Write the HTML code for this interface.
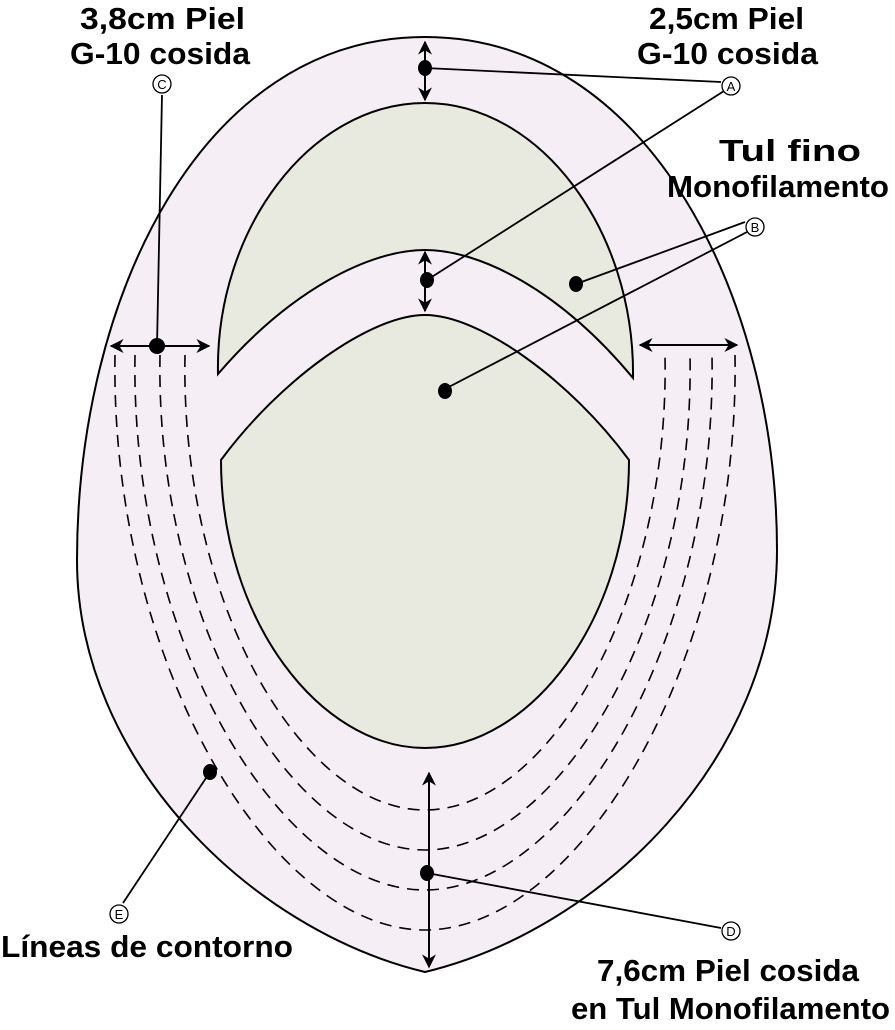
<!DOCTYPE html>
<html><head><meta charset="utf-8"><style>
html,body{margin:0;padding:0;background:#fff;}
svg{display:block;}
text{font-family:"Liberation Sans",sans-serif;font-weight:bold;font-size:31px;fill:#000;}
.c{font-size:13px;font-weight:normal;}
</style></head><body>
<svg width="895" height="1030" viewBox="0 0 895 1030" xmlns="http://www.w3.org/2000/svg">
<defs>
<marker id="ar" viewBox="0 0 10 10" refX="9" refY="5" markerWidth="7" markerHeight="7" orient="auto-start-reverse">
<path d="M0,0 L10,5 L0,10 L3,5 Z" fill="#000"/></marker>
</defs>
<path d="M425,37 C650,37 777,300 777,550 C777,760 600,930 425,972 C250,930 77,760 77,560 C77,300 200,37 425,37 Z" fill="#f5eff5" stroke="#000" stroke-width="2"/>
<path d="M218,374 C215,230 310,103 425,103 C540,103 635,230 633,378 C560,290 480,250 425,250 C370,250 290,290 218,374 Z" fill="#e9eadf" stroke="#000" stroke-width="2"/>
<path d="M221,460 C280,380 370,315 425,315 C480,315 570,380 629,460 C629,620 530,748 425,748 C320,748 221,620 221,460 Z" fill="#e9eadf" stroke="#000" stroke-width="2"/>
<g fill="none" stroke="#000" stroke-width="1.6" stroke-dasharray="12,8">
<path d="M185,355 C180,600 300,810 425,810 C550,810 670,600 665,355"/>
<path d="M160,355 C155,620 290,850 425,850 C560,850 695,620 690,355"/>
<path d="M135,355 C130,640 280,890 425,890 C570,890 717,640 712,355"/>
<path d="M115,355 C110,660 270,930 425,930 C580,930 740,660 735,355"/>
</g>
<g stroke="#000" stroke-width="2" fill="none">
<line x1="425" y1="42" x2="425" y2="100" marker-start="url(#ar)" marker-end="url(#ar)"/>
<line x1="425" y1="252" x2="425" y2="311" marker-start="url(#ar)" marker-end="url(#ar)"/>
<line x1="111" y1="346" x2="209" y2="346" marker-start="url(#ar)" marker-end="url(#ar)"/>
<line x1="640" y1="345" x2="737" y2="345" marker-start="url(#ar)" marker-end="url(#ar)"/>
<line x1="429" y1="773" x2="429" y2="967" marker-start="url(#ar)" marker-end="url(#ar)"/>
</g>
<g stroke="#000" stroke-width="1.8">
<line x1="425" y1="68" x2="721" y2="82"/>
<line x1="427" y1="280" x2="724" y2="91"/>
<line x1="576" y1="284" x2="745" y2="222"/>
<line x1="443" y1="390" x2="747" y2="232"/>
<line x1="157" y1="346" x2="162" y2="95"/>
<line x1="427" y1="873" x2="721" y2="928"/>
<line x1="210" y1="772" x2="123" y2="903"/>
</g>
<g fill="#000">
<ellipse cx="425" cy="68" rx="7" ry="8"/>
<ellipse cx="427" cy="280" rx="7" ry="8"/>
<ellipse cx="157" cy="346" rx="8" ry="8"/>
<ellipse cx="576" cy="284" rx="7" ry="8"/>
<ellipse cx="445" cy="391" rx="7" ry="8"/>
<ellipse cx="210" cy="772" rx="7" ry="8"/>
<ellipse cx="427" cy="873" rx="7" ry="8"/>
</g>
<g fill="#fff" stroke="#000" stroke-width="1.3">
<circle cx="731" cy="86" r="9"/>
<circle cx="755" cy="227" r="9"/>
<circle cx="162" cy="84" r="9"/>
<circle cx="731" cy="931" r="9"/>
<circle cx="119" cy="914" r="9"/>
</g>
<g text-anchor="middle">
<text class="c" x="731" y="91">A</text>
<text class="c" x="755" y="232">B</text>
<text class="c" x="162" y="89">C</text>
<text class="c" x="731" y="936">D</text>
<text class="c" x="119" y="919">E</text>
</g>
<text x="80" y="29" textLength="165" lengthAdjust="spacingAndGlyphs">3,8cm Piel</text>
<text x="70" y="64" textLength="180" lengthAdjust="spacingAndGlyphs">G-10 cosida</text>
<text x="649" y="29" textLength="155" lengthAdjust="spacingAndGlyphs">2,5cm Piel</text>
<text x="637" y="64" textLength="181" lengthAdjust="spacingAndGlyphs">G-10 cosida</text>
<text x="719" y="161" textLength="142" lengthAdjust="spacingAndGlyphs">Tul fino</text>
<text x="667" y="197" textLength="222" lengthAdjust="spacingAndGlyphs">Monofilamento</text>
<text x="1" y="957" textLength="292" lengthAdjust="spacingAndGlyphs">Líneas de contorno</text>
<text x="597" y="981" textLength="262" lengthAdjust="spacingAndGlyphs">7,6cm Piel cosida</text>
<text x="571" y="1019" textLength="319" lengthAdjust="spacingAndGlyphs">en Tul Monofilamento</text>
</svg>
</body></html>
